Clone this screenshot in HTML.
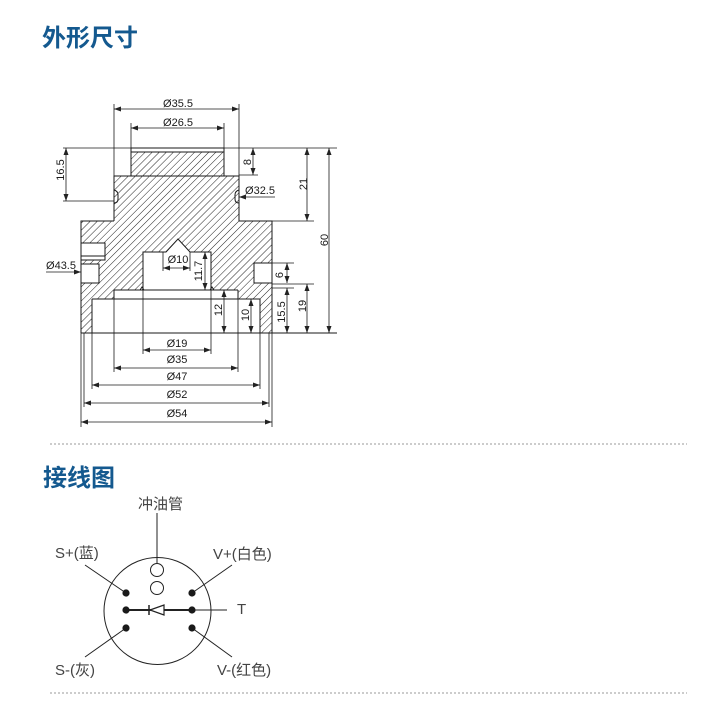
<!DOCTYPE html>
<html>
<head>
<meta charset="utf-8">
<style>
html,body{margin:0;padding:0;background:#fff;}
body{width:724px;height:714px;overflow:hidden;}
svg{display:block;}
.t{font-family:"Liberation Sans","Noto Sans CJK SC",sans-serif;font-size:11px;fill:#1a1a1a;}
.lbl{font-family:"Liberation Sans","Noto Sans CJK SC",sans-serif;font-size:15px;fill:#444;}
.ttl{font-family:"Liberation Sans","Noto Sans CJK SC",sans-serif;font-size:24px;font-weight:bold;fill:#14598f;}
</style>
</head>
<body>
<svg width="724" height="714" viewBox="0 0 724 714" xmlns="http://www.w3.org/2000/svg">
<defs>
  <pattern id="h" width="5" height="5" patternUnits="userSpaceOnUse" patternTransform="rotate(45)">
    <line x1="0" y1="0" x2="0" y2="5" stroke="#222" stroke-width="1"/>
  </pattern>
  <marker id="a" viewBox="0 0 7 5" refX="7" refY="2.5" markerWidth="7" markerHeight="5" markerUnits="userSpaceOnUse" orient="auto-start-reverse">
    <path d="M0,0 L7,2.5 L0,5 z" fill="#222"/>
  </marker>
</defs>

<!-- Titles -->
<text class="ttl" x="42" y="46">外形尺寸</text>
<text class="ttl" x="43" y="486">接线图</text>

<!-- Hatched body -->
<polygon fill="url(#h)" points="131,152 224,152 224,176 239,176 239,221 272,221 272,263 254,263 254,283 272,283 272,333 260,333 260,299 238,299 238,290 211,290 211,252 190,252 178,239 166,252 143,252 143,290 114,290 114,299 92,299 92,333 81,333 81,283 99,283 99,264 81,264 81,260 105,260 105,243 81,243 81,221 114,221 114,176 131,176"/>

<g fill="none" stroke="#1a1a1a" stroke-width="1">
  <!-- cap -->
  <polyline points="131,176 131,148 224,148 224,176"/>
  <line x1="131" y1="152" x2="224" y2="152"/>
  <!-- upper body -->
  <polyline points="114,221 114,176 239,176 239,221"/>
  <!-- small side recesses -->
  <path d="M114,190 Q118,191 118,195 L118,199 Q118,203 114,203"/>
  <path d="M239,190 Q235,191 235,195 L235,199 Q235,203 239,203"/>
  <!-- flange -->
  <polyline points="81,333 81,221 114,221"/>
  <polyline points="239,221 272,221 272,333"/>
  <!-- left slot -->
  <polyline points="81,243 105,243 105,260 81,260"/>
  <line x1="81" y1="256" x2="105" y2="256"/>
  <polyline points="81,264 99,264 99,283 81,283"/>
  <!-- right notch -->
  <polyline points="272,263 254,263 254,283 272,283"/>
  <!-- cavity -->
  <polyline points="143,290 143,252 166,252 178,239 190,252 211,252 211,290"/>
  <line x1="114" y1="290" x2="238" y2="290"/>
  <line x1="92" y1="299" x2="260" y2="299"/>
  <line x1="92" y1="299" x2="92" y2="333"/>
  <line x1="260" y1="299" x2="260" y2="333"/>
  <line x1="114" y1="290" x2="114" y2="299"/>
  <line x1="238" y1="290" x2="238" y2="299"/>
  <path d="M140,290 L142,287 L144,290 M210,290 L212,287 L214,290"/>
  <!-- bottom line -->
  <line x1="81" y1="333" x2="337" y2="333"/>
</g>

<!-- Extension lines -->
<g stroke="#1a1a1a" stroke-width="0.8" fill="none">
  <line x1="114" y1="104" x2="114" y2="176"/>
  <line x1="239" y1="104" x2="239" y2="176"/>
  <line x1="131" y1="123" x2="131" y2="148"/>
  <line x1="224" y1="123" x2="224" y2="148"/>
  <line x1="63" y1="148" x2="131" y2="148"/>
  <line x1="224" y1="148" x2="337" y2="148"/>
  <line x1="63" y1="201" x2="114" y2="201"/>
  <line x1="239" y1="175" x2="258" y2="175"/>
  <line x1="272" y1="221" x2="314" y2="221"/>
  <line x1="272" y1="263" x2="294" y2="263"/>
  <line x1="272" y1="284" x2="314" y2="284"/>
  <line x1="272" y1="288" x2="294" y2="288"/>
  <line x1="163" y1="252" x2="163" y2="271"/>
  <line x1="190" y1="252" x2="190" y2="271"/>
  <line x1="81" y1="333" x2="81" y2="427"/>
  <line x1="84" y1="333" x2="84" y2="407"/>
  <line x1="92" y1="333" x2="92" y2="389"/>
  <line x1="114" y1="299" x2="114" y2="372"/>
  <line x1="143" y1="290" x2="143" y2="354"/>
  <line x1="211" y1="290" x2="211" y2="354"/>
  <line x1="238" y1="299" x2="238" y2="372"/>
  <line x1="260" y1="333" x2="260" y2="389"/>
  <line x1="269" y1="333" x2="269" y2="407"/>
  <line x1="272" y1="333" x2="272" y2="427"/>
  <!-- Ø43.5 leader -->
  <line x1="46" y1="272" x2="81" y2="272" marker-end="url(#a)"/>
  <!-- Ø32.5 leader -->
  <line x1="275" y1="197" x2="239" y2="197" marker-end="url(#a)"/>
</g>

<!-- Dimension lines -->
<g stroke="#1a1a1a" stroke-width="0.8" fill="none" marker-start="url(#a)" marker-end="url(#a)">
  <line x1="114" y1="109" x2="239" y2="109"/>
  <line x1="131" y1="128" x2="224" y2="128"/>
  <line x1="163" y1="268" x2="190" y2="268"/>
  <line x1="143" y1="350" x2="211" y2="350"/>
  <line x1="114" y1="368" x2="238" y2="368"/>
  <line x1="92" y1="385" x2="260" y2="385"/>
  <line x1="84" y1="403" x2="269" y2="403"/>
  <line x1="81" y1="422" x2="272" y2="422"/>
  <line x1="66" y1="148" x2="66" y2="201"/>
  <line x1="253" y1="148" x2="253" y2="175"/>
  <line x1="307" y1="148" x2="307" y2="221"/>
  <line x1="329" y1="148" x2="329" y2="333"/>
  <line x1="205" y1="252" x2="205" y2="290"/>
  <line x1="287" y1="263" x2="287" y2="283"/>
  <line x1="287" y1="288" x2="287" y2="333"/>
  <line x1="307" y1="284" x2="307" y2="333"/>
  <line x1="224" y1="290" x2="224" y2="333"/>
  <line x1="251" y1="299" x2="251" y2="333"/>
</g>

<!-- Dimension text -->
<g class="t" text-anchor="middle">
  <text x="178" y="107">Ø35.5</text>
  <text x="178" y="126">Ø26.5</text>
  <text x="178" y="263">Ø10</text>
  <text x="177" y="347">Ø19</text>
  <text x="177" y="363">Ø35</text>
  <text x="177" y="380">Ø47</text>
  <text x="177" y="398">Ø52</text>
  <text x="177" y="417">Ø54</text>
  <text x="61" y="269">Ø43.5</text>
  <text x="260" y="194">Ø32.5</text>
  <text transform="translate(64,170) rotate(-90)">16.5</text>
  <text transform="translate(251,162) rotate(-90)">8</text>
  <text transform="translate(307,184) rotate(-90)">21</text>
  <text transform="translate(328,240) rotate(-90)">60</text>
  <text transform="translate(202,271) rotate(-90)">11.7</text>
  <text transform="translate(283,275) rotate(-90)">6</text>
  <text transform="translate(222,310) rotate(-90)">12</text>
  <text transform="translate(249,315) rotate(-90)">10</text>
  <text transform="translate(285,312) rotate(-90)">15.5</text>
  <text transform="translate(306,306) rotate(-90)">19</text>
</g>

<!-- Separators -->
<line x1="50" y1="444" x2="687" y2="444" stroke="#999" stroke-width="1" stroke-dasharray="2,2"/>
<line x1="50" y1="693" x2="687" y2="693" stroke="#999" stroke-width="1" stroke-dasharray="2,2"/>

<!-- Wiring diagram -->
<g stroke="#222" stroke-width="1" fill="none">
  <circle cx="157.5" cy="611" r="53.5"/>
  <line x1="157" y1="513" x2="157" y2="563.5"/>
  <circle cx="157" cy="570" r="6.5"/>
  <circle cx="157" cy="588" r="6.5"/>
  <line x1="85" y1="565" x2="126" y2="593"/>
  <line x1="192" y1="593" x2="232" y2="565"/>
  <line x1="192" y1="610" x2="227" y2="610"/>
  <line x1="126" y1="628" x2="85" y2="657"/>
  <line x1="192" y1="628" x2="232" y2="657"/>
  <line x1="126" y1="610" x2="192" y2="610" stroke-width="2"/>
  <line x1="149" y1="605" x2="149" y2="615" stroke-width="1.5"/>
  <polygon points="150,610 164,605 164,615" fill="#fff" stroke-width="1.2"/>
</g>
<g fill="#1a1a1a">
  <circle cx="126" cy="593" r="3.6"/>
  <circle cx="126" cy="610" r="3.6"/>
  <circle cx="126" cy="628" r="3.6"/>
  <circle cx="192" cy="593" r="3.6"/>
  <circle cx="192" cy="610" r="3.6"/>
  <circle cx="192" cy="628" r="3.6"/>
</g>
<g class="lbl">
  <text x="138" y="509">冲油管</text>
  <text x="55" y="558">S+(蓝)</text>
  <text x="213" y="559">V+(白色)</text>
  <text x="237" y="614">T</text>
  <text x="55" y="675">S-(灰)</text>
  <text x="217" y="675">V-(红色)</text>
</g>
</svg>
</body>
</html>
